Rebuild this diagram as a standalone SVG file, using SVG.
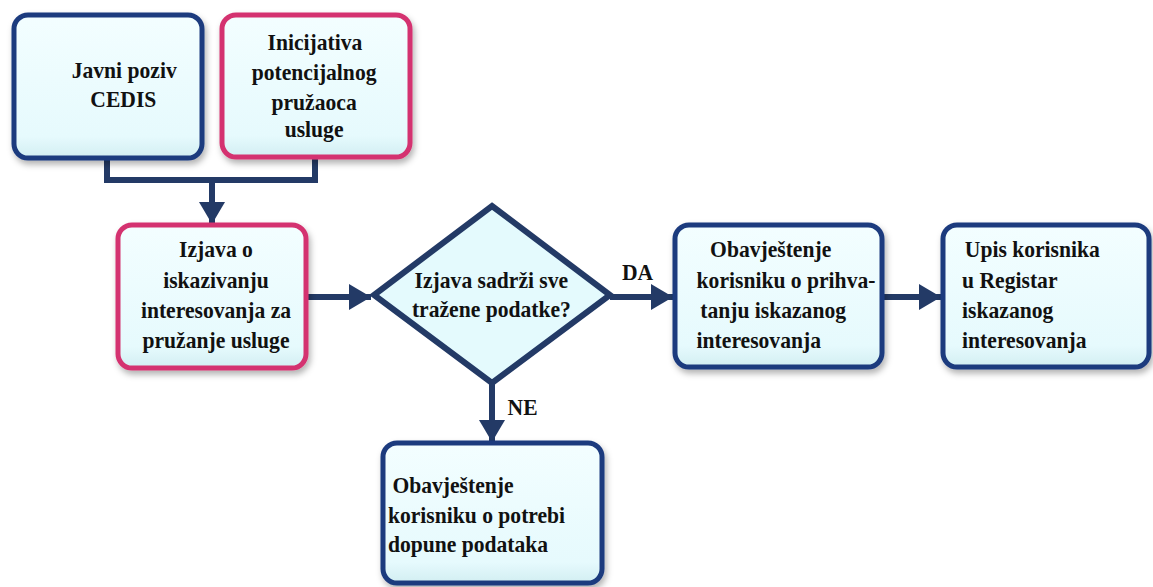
<svg xmlns="http://www.w3.org/2000/svg" width="1153" height="587" viewBox="0 0 1153 587" font-family="'Liberation Serif', 'Times New Roman', Times, serif" font-weight="bold" font-size="24">
<defs>
<linearGradient id="fill" x1="0" y1="0" x2="0" y2="1">
<stop offset="0" stop-color="#f3feff"/>
<stop offset="0.85" stop-color="#e6fafd"/>
<stop offset="1" stop-color="#d2eef2"/>
</linearGradient>
<filter id="sh" x="-10%" y="-10%" width="125%" height="130%">
<feDropShadow dx="2" dy="4" stdDeviation="3" flood-color="#000" flood-opacity="0.3"/>
</filter>
<marker id="ah" markerUnits="userSpaceOnUse" markerWidth="24" markerHeight="26" refX="22" refY="13" orient="auto">
<path d="M0,0 L22,13 L0,26 Z" fill="#233a66"/>
</marker>
</defs>
<style>
.box{fill:url(#fill);stroke-width:5;filter:url(#sh)}
.navy{stroke:#1c3b7e}
.pink{stroke:#d4336f}
.dia{fill:#e4fafd;stroke:#233a66;stroke-width:6;stroke-linejoin:miter}
.con{fill:none;stroke:#233a66;stroke-width:6}
text{fill:#111}
.c{text-anchor:middle}
</style>
<g id="connectors">
<polyline class="con" points="107,155 107,180 315,180 315,155"/>
<line class="con" x1="212" y1="180" x2="212" y2="224" marker-end="url(#ah)"/>
<line class="con" x1="305" y1="297" x2="371" y2="297" marker-end="url(#ah)"/>
<line class="con" x1="610" y1="297" x2="673" y2="297" marker-end="url(#ah)"/>
<line class="con" x1="881" y1="297" x2="941" y2="297" marker-end="url(#ah)"/>
<line class="con" x1="492" y1="382" x2="492" y2="442" marker-end="url(#ah)"/>
<g transform="scale(0.9,1)">
<text x="691" y="280">DA</text>
<text x="564" y="415">NE</text>
</g>
</g>
<g id="javni-poziv">
<rect class="box navy" x="14" y="15" width="188" height="143" rx="14"/>
<g transform="scale(0.9,1)">
<text class="c" x="138" y="78">Javni poziv</text>
<text class="c" x="137" y="107">CEDIS</text>
</g>
</g>
<g id="inicijativa">
<rect class="box pink" x="222" y="15" width="188" height="142" rx="14"/>
<g transform="scale(0.9,1)">
<text class="c" x="350" y="50">Inicijativa</text>
<text class="c" x="349" y="80">potencijalnog</text>
<text class="c" x="349" y="110">pružaoca</text>
<text class="c" x="349" y="137">usluge</text>
</g>
</g>
<g id="izjava">
<rect class="box pink" x="118" y="225" width="188" height="143" rx="14"/>
<g transform="scale(0.9,1)">
<text class="c" x="240" y="257">Izjava o</text>
<text class="c" x="240" y="288">iskazivanju</text>
<text class="c" x="240" y="318">interesovanja za</text>
<text class="c" x="240" y="348">pružanje usluge</text>
</g>
</g>
<g id="odluka">
<polygon class="dia" points="492,206 610,295 492,383 374,295"/>
<g transform="scale(0.9,1)">
<text class="c" x="546" y="288">Izjava sadrži sve</text>
<text class="c" x="546" y="317">tražene podatke?</text>
</g>
</g>
<g id="prihvatanje">
<rect class="box navy" x="675" y="225" width="207" height="142" rx="14"/>
<g transform="scale(0.9,1)">
<text x="789" y="257">Obavještenje</text>
<text x="774" y="288">korisniku o prihva-</text>
<text x="778" y="318">tanju iskazanog</text>
<text x="774" y="348">interesovanja</text>
</g>
</g>
<g id="upis">
<rect class="box navy" x="943" y="225" width="206" height="142" rx="14"/>
<g transform="scale(0.9,1)">
<text x="1072" y="257">Upis korisnika</text>
<text x="1069" y="288">u Registar</text>
<text x="1069" y="318">iskazanog</text>
<text x="1069" y="348">interesovanja</text>
</g>
</g>
<g id="dopuna">
<rect class="box navy" x="383" y="443" width="219" height="140" rx="14"/>
<g transform="scale(0.9,1)">
<text x="436" y="493">Obavještenje</text>
<text x="431" y="523">korisniku o potrebi</text>
<text x="431" y="552">dopune podataka</text>
</g>
</g>
</svg>
